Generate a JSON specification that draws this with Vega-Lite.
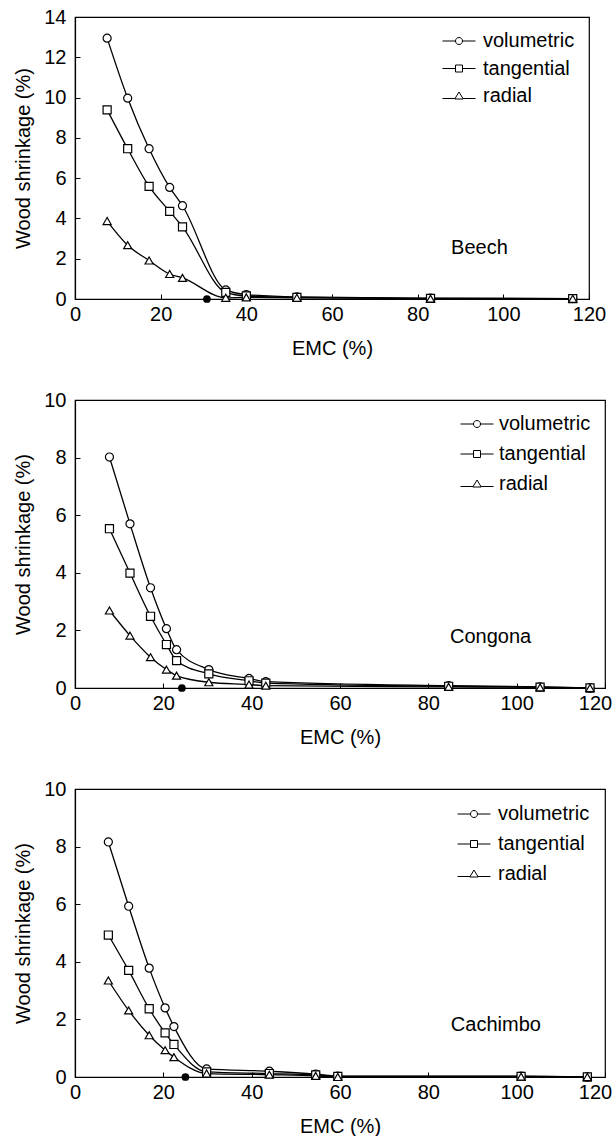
{
  "$schema": "https://vega.github.io/schema/vega-lite/v6.json",
  "padding": {"left": 13, "top": 6, "right": 0, "bottom": 0},
  "background": "white",
  "datasets": {
    "shrink": [
      {"panel": "Beech", "series": "volumetric", "emc": 7.5, "shrinkage": 12.95},
      {"panel": "Beech", "series": "volumetric", "emc": 12.3, "shrinkage": 9.97},
      {"panel": "Beech", "series": "volumetric", "emc": 17.3, "shrinkage": 7.46},
      {"panel": "Beech", "series": "volumetric", "emc": 22.1, "shrinkage": 5.54},
      {"panel": "Beech", "series": "volumetric", "emc": 25.1, "shrinkage": 4.63},
      {"panel": "Beech", "series": "volumetric", "emc": 35.2, "shrinkage": 0.45},
      {"panel": "Beech", "series": "volumetric", "emc": 40.0, "shrinkage": 0.22},
      {"panel": "Beech", "series": "volumetric", "emc": 51.8, "shrinkage": 0.1},
      {"panel": "Beech", "series": "volumetric", "emc": 83.0, "shrinkage": 0.04},
      {"panel": "Beech", "series": "volumetric", "emc": 116.2, "shrinkage": 0.02},
      {"panel": "Beech", "series": "tangential", "emc": 7.5, "shrinkage": 9.39},
      {"panel": "Beech", "series": "tangential", "emc": 12.3, "shrinkage": 7.46},
      {"panel": "Beech", "series": "tangential", "emc": 17.3, "shrinkage": 5.59},
      {"panel": "Beech", "series": "tangential", "emc": 22.1, "shrinkage": 4.35},
      {"panel": "Beech", "series": "tangential", "emc": 25.1, "shrinkage": 3.58},
      {"panel": "Beech", "series": "tangential", "emc": 35.2, "shrinkage": 0.33},
      {"panel": "Beech", "series": "tangential", "emc": 40.0, "shrinkage": 0.15},
      {"panel": "Beech", "series": "tangential", "emc": 51.8, "shrinkage": 0.08},
      {"panel": "Beech", "series": "tangential", "emc": 83.0, "shrinkage": 0.03},
      {"panel": "Beech", "series": "tangential", "emc": 116.2, "shrinkage": 0.02},
      {"panel": "Beech", "series": "radial", "emc": 7.5, "shrinkage": 3.87},
      {"panel": "Beech", "series": "radial", "emc": 12.3, "shrinkage": 2.67},
      {"panel": "Beech", "series": "radial", "emc": 17.3, "shrinkage": 1.91},
      {"panel": "Beech", "series": "radial", "emc": 22.1, "shrinkage": 1.24},
      {"panel": "Beech", "series": "radial", "emc": 25.1, "shrinkage": 1.05},
      {"panel": "Beech", "series": "radial", "emc": 35.2, "shrinkage": 0.06},
      {"panel": "Beech", "series": "radial", "emc": 40.0, "shrinkage": 0.08},
      {"panel": "Beech", "series": "radial", "emc": 51.8, "shrinkage": 0.06},
      {"panel": "Beech", "series": "radial", "emc": 83.0, "shrinkage": 0.02},
      {"panel": "Beech", "series": "radial", "emc": 116.2, "shrinkage": 0.01},

      {"panel": "Congona", "series": "volumetric", "emc": 7.8, "shrinkage": 8.02},
      {"panel": "Congona", "series": "volumetric", "emc": 12.45, "shrinkage": 5.70},
      {"panel": "Congona", "series": "volumetric", "emc": 17.1, "shrinkage": 3.48},
      {"panel": "Congona", "series": "volumetric", "emc": 20.7, "shrinkage": 2.06},
      {"panel": "Congona", "series": "volumetric", "emc": 23.0, "shrinkage": 1.33},
      {"panel": "Congona", "series": "volumetric", "emc": 30.3, "shrinkage": 0.64},
      {"panel": "Congona", "series": "volumetric", "emc": 39.4, "shrinkage": 0.33},
      {"panel": "Congona", "series": "volumetric", "emc": 43.2, "shrinkage": 0.22},
      {"panel": "Congona", "series": "volumetric", "emc": 84.6, "shrinkage": 0.08},
      {"panel": "Congona", "series": "volumetric", "emc": 105.3, "shrinkage": 0.04},
      {"panel": "Congona", "series": "volumetric", "emc": 116.6, "shrinkage": 0.0},
      {"panel": "Congona", "series": "tangential", "emc": 7.8, "shrinkage": 5.53},
      {"panel": "Congona", "series": "tangential", "emc": 12.45, "shrinkage": 3.99},
      {"panel": "Congona", "series": "tangential", "emc": 17.1, "shrinkage": 2.49},
      {"panel": "Congona", "series": "tangential", "emc": 20.7, "shrinkage": 1.51},
      {"panel": "Congona", "series": "tangential", "emc": 23.0, "shrinkage": 0.95},
      {"panel": "Congona", "series": "tangential", "emc": 30.3, "shrinkage": 0.49},
      {"panel": "Congona", "series": "tangential", "emc": 39.4, "shrinkage": 0.25},
      {"panel": "Congona", "series": "tangential", "emc": 43.2, "shrinkage": 0.17},
      {"panel": "Congona", "series": "tangential", "emc": 84.6, "shrinkage": 0.06},
      {"panel": "Congona", "series": "tangential", "emc": 105.3, "shrinkage": 0.03},
      {"panel": "Congona", "series": "tangential", "emc": 116.6, "shrinkage": 0.0},
      {"panel": "Congona", "series": "radial", "emc": 7.8, "shrinkage": 2.69},
      {"panel": "Congona", "series": "radial", "emc": 12.45, "shrinkage": 1.82},
      {"panel": "Congona", "series": "radial", "emc": 17.1, "shrinkage": 1.07},
      {"panel": "Congona", "series": "radial", "emc": 20.7, "shrinkage": 0.64},
      {"panel": "Congona", "series": "radial", "emc": 23.0, "shrinkage": 0.43},
      {"panel": "Congona", "series": "radial", "emc": 30.3, "shrinkage": 0.2},
      {"panel": "Congona", "series": "radial", "emc": 39.4, "shrinkage": 0.12},
      {"panel": "Congona", "series": "radial", "emc": 43.2, "shrinkage": 0.08},
      {"panel": "Congona", "series": "radial", "emc": 84.6, "shrinkage": 0.04},
      {"panel": "Congona", "series": "radial", "emc": 105.3, "shrinkage": 0.02},
      {"panel": "Congona", "series": "radial", "emc": 116.6, "shrinkage": 0.0},

      {"panel": "Cachimbo", "series": "volumetric", "emc": 7.55, "shrinkage": 8.16},
      {"panel": "Cachimbo", "series": "volumetric", "emc": 12.15, "shrinkage": 5.93},
      {"panel": "Cachimbo", "series": "volumetric", "emc": 16.8, "shrinkage": 3.78},
      {"panel": "Cachimbo", "series": "volumetric", "emc": 20.4, "shrinkage": 2.40},
      {"panel": "Cachimbo", "series": "volumetric", "emc": 22.4, "shrinkage": 1.75},
      {"panel": "Cachimbo", "series": "volumetric", "emc": 29.8, "shrinkage": 0.28},
      {"panel": "Cachimbo", "series": "volumetric", "emc": 44.0, "shrinkage": 0.2},
      {"panel": "Cachimbo", "series": "volumetric", "emc": 54.5, "shrinkage": 0.1},
      {"panel": "Cachimbo", "series": "volumetric", "emc": 59.5, "shrinkage": 0.03},
      {"panel": "Cachimbo", "series": "volumetric", "emc": 101.0, "shrinkage": 0.03},
      {"panel": "Cachimbo", "series": "volumetric", "emc": 116.0, "shrinkage": 0.0},
      {"panel": "Cachimbo", "series": "tangential", "emc": 7.55, "shrinkage": 4.93},
      {"panel": "Cachimbo", "series": "tangential", "emc": 12.15, "shrinkage": 3.70},
      {"panel": "Cachimbo", "series": "tangential", "emc": 16.8, "shrinkage": 2.37},
      {"panel": "Cachimbo", "series": "tangential", "emc": 20.4, "shrinkage": 1.53},
      {"panel": "Cachimbo", "series": "tangential", "emc": 22.4, "shrinkage": 1.13},
      {"panel": "Cachimbo", "series": "tangential", "emc": 29.8, "shrinkage": 0.18},
      {"panel": "Cachimbo", "series": "tangential", "emc": 44.0, "shrinkage": 0.12},
      {"panel": "Cachimbo", "series": "tangential", "emc": 54.5, "shrinkage": 0.07},
      {"panel": "Cachimbo", "series": "tangential", "emc": 59.5, "shrinkage": 0.02},
      {"panel": "Cachimbo", "series": "tangential", "emc": 101.0, "shrinkage": 0.02},
      {"panel": "Cachimbo", "series": "tangential", "emc": 116.0, "shrinkage": 0.0},
      {"panel": "Cachimbo", "series": "radial", "emc": 7.55, "shrinkage": 3.35},
      {"panel": "Cachimbo", "series": "radial", "emc": 12.15, "shrinkage": 2.31},
      {"panel": "Cachimbo", "series": "radial", "emc": 16.8, "shrinkage": 1.45},
      {"panel": "Cachimbo", "series": "radial", "emc": 20.4, "shrinkage": 0.93},
      {"panel": "Cachimbo", "series": "radial", "emc": 22.4, "shrinkage": 0.69},
      {"panel": "Cachimbo", "series": "radial", "emc": 29.8, "shrinkage": 0.12},
      {"panel": "Cachimbo", "series": "radial", "emc": 44.0, "shrinkage": 0.08},
      {"panel": "Cachimbo", "series": "radial", "emc": 54.5, "shrinkage": 0.04},
      {"panel": "Cachimbo", "series": "radial", "emc": 59.5, "shrinkage": 0.0},
      {"panel": "Cachimbo", "series": "radial", "emc": 101.0, "shrinkage": 0.01},
      {"panel": "Cachimbo", "series": "radial", "emc": 116.0, "shrinkage": 0.0}
    ],
    "fsp": [
      {"panel": "Beech", "emc": 30.8},
      {"panel": "Congona", "emc": 24.2},
      {"panel": "Cachimbo", "emc": 25.0}
    ]
  },
  "vconcat": [
    {
      "width": 514, "height": 282,
      "layer": [
        {
          "data": {"name": "shrink"},
          "transform": [{"filter": "datum.panel === 'Beech'"}],
          "mark": {"type": "line", "color": "black", "strokeWidth": 1.3, "interpolate": "monotone"},
          "encoding": {
            "x": {"field": "emc", "type": "quantitative", "scale": {"domain": [0, 120], "nice": false}, "axis": {"title": "EMC (%)", "values": [0, 20, 40, 60, 80, 100, 120]}},
            "y": {"field": "shrinkage", "type": "quantitative", "scale": {"domain": [0, 14], "nice": false}, "axis": {"title": "Wood shrinkage (%)", "values": [0, 2, 4, 6, 8, 10, 12, 14]}},
            "detail": {"field": "series"}
          }
        },
        {
          "data": {"name": "shrink"},
          "transform": [{"filter": "datum.panel === 'Beech'"}],
          "mark": {"type": "point", "filled": true, "fill": "white", "stroke": "black", "strokeWidth": 1.2, "size": 65, "opacity": 1},
          "encoding": {
            "x": {"field": "emc", "type": "quantitative"},
            "y": {"field": "shrinkage", "type": "quantitative"},
            "shape": {"field": "series", "type": "nominal", "scale": {"domain": ["volumetric", "tangential", "radial"], "range": ["circle", "square", "triangle-up"]}, "legend": null}
          }
        },
        {
          "data": {"name": "shrink"},
          "transform": [{"filter": "datum.panel === 'Beech'"}],
          "mark": {"type": "point", "filled": false, "stroke": "black", "strokeWidth": 1, "opacity": 0},
          "encoding": {
            "x": {"field": "emc", "type": "quantitative"},
            "y": {"field": "shrinkage", "type": "quantitative"},
            "shape": {
              "field": "series", "type": "nominal",
              "scale": {"domain": ["volumetric", "tangential", "radial"], "range": ["M-3.3,0H-0.7M0.7,0H3.3M0.7,0L0.647,0.268L0.495,0.495L0.268,0.647L0,0.7L-0.268,0.647L-0.495,0.495L-0.647,0.268L-0.7,0L-0.647,-0.268L-0.495,-0.495L-0.268,-0.647L0,-0.7L0.268,-0.647L0.495,-0.495L0.647,-0.268Z", "M-3.3,0H-0.7M0.7,0H3.3M-0.7,-0.7H0.7V0.7H-0.7Z", "M-3.3,0.5H-0.79M0.79,0.5H3.3M0,-0.8L0.85,0.6L-0.85,0.6Z"]},
              "legend": {
                "title": null, "orient": "top-right", "offset": 14, "padding": 0,
                "labelFontSize": 20, "labelColor": "black", "labelOffset": 14, "rowPadding": 7.5,
                "symbolSize": 100, "symbolStrokeWidth": 1, "symbolStrokeColor": "black", "symbolFillColor": "white", "symbolOpacity": 1
              }
            }
          }
        },
        {
          "data": {"name": "fsp"},
          "transform": [{"filter": "datum.panel === 'Beech'"}],
          "mark": {"type": "point", "filled": true, "color": "black", "size": 60, "opacity": 1},
          "encoding": {
            "x": {"field": "emc", "type": "quantitative"},
            "y": {"datum": 0, "type": "quantitative"}
          }
        },
        {
          "data": {"values": [{"species": "Beech"}]},
          "mark": {"type": "text", "fontSize": 20, "align": "left", "baseline": "middle", "color": "black"},
          "encoding": {
            "text": {"field": "species"},
            "x": {"datum": 87.8, "type": "quantitative"},
            "y": {"datum": 2.54, "type": "quantitative"}
          }
        }
      ],
      "resolve": {"scale": {"shape": "independent"}, "legend": {"shape": "independent"}}
    },
    {
      "width": 530, "height": 288,
      "layer": [
        {
          "data": {"name": "shrink"},
          "transform": [{"filter": "datum.panel === 'Congona'"}],
          "mark": {"type": "line", "color": "black", "strokeWidth": 1.3, "interpolate": "monotone"},
          "encoding": {
            "x": {"field": "emc", "type": "quantitative", "scale": {"domain": [0, 120], "nice": false}, "axis": {"title": "EMC (%)", "values": [0, 20, 40, 60, 80, 100, 120], "labelOffset": {"condition": {"test": "datum.value === 120", "value": -10}, "value": 0}}},
            "y": {"field": "shrinkage", "type": "quantitative", "scale": {"domain": [0, 10], "nice": false}, "axis": {"title": "Wood shrinkage (%)", "values": [0, 2, 4, 6, 8, 10]}},
            "detail": {"field": "series"}
          }
        },
        {
          "data": {"name": "shrink"},
          "transform": [{"filter": "datum.panel === 'Congona'"}],
          "mark": {"type": "point", "filled": true, "fill": "white", "stroke": "black", "strokeWidth": 1.2, "size": 65, "opacity": 1},
          "encoding": {
            "x": {"field": "emc", "type": "quantitative"},
            "y": {"field": "shrinkage", "type": "quantitative"},
            "shape": {"field": "series", "type": "nominal", "scale": {"domain": ["volumetric", "tangential", "radial"], "range": ["circle", "square", "triangle-up"]}, "legend": null}
          }
        },
        {
          "data": {"name": "shrink"},
          "transform": [{"filter": "datum.panel === 'Congona'"}],
          "mark": {"type": "point", "filled": false, "stroke": "black", "strokeWidth": 1, "opacity": 0},
          "encoding": {
            "x": {"field": "emc", "type": "quantitative"},
            "y": {"field": "shrinkage", "type": "quantitative"},
            "shape": {
              "field": "series", "type": "nominal",
              "scale": {"domain": ["volumetric", "tangential", "radial"], "range": ["M-3.3,0H-0.7M0.7,0H3.3M0.7,0L0.647,0.268L0.495,0.495L0.268,0.647L0,0.7L-0.268,0.647L-0.495,0.495L-0.647,0.268L-0.7,0L-0.647,-0.268L-0.495,-0.495L-0.268,-0.647L0,-0.7L0.268,-0.647L0.495,-0.495L0.647,-0.268Z", "M-3.3,0H-0.7M0.7,0H3.3M-0.7,-0.7H0.7V0.7H-0.7Z", "M-3.3,0.5H-0.79M0.79,0.5H3.3M0,-0.8L0.85,0.6L-0.85,0.6Z"]},
              "legend": {
                "title": null, "orient": "top-right", "offset": 14, "padding": 0,
                "labelFontSize": 20, "labelColor": "black", "labelOffset": 12, "rowPadding": 10,
                "symbolSize": 100, "symbolStrokeWidth": 1, "symbolStrokeColor": "black", "symbolFillColor": "white", "symbolOpacity": 1
              }
            }
          }
        },
        {
          "data": {"name": "fsp"},
          "transform": [{"filter": "datum.panel === 'Congona'"}],
          "mark": {"type": "point", "filled": true, "color": "black", "size": 60, "opacity": 1},
          "encoding": {
            "x": {"field": "emc", "type": "quantitative"},
            "y": {"datum": 0, "type": "quantitative"}
          }
        },
        {
          "data": {"values": [{"species": "Congona"}]},
          "mark": {"type": "text", "fontSize": 20, "align": "left", "baseline": "middle", "color": "black"},
          "encoding": {
            "text": {"field": "species"},
            "x": {"datum": 84.9, "type": "quantitative"},
            "y": {"datum": 1.77, "type": "quantitative"}
          }
        }
      ],
      "resolve": {"scale": {"shape": "independent"}, "legend": {"shape": "independent"}}
    },
    {
      "width": 530, "height": 288,
      "layer": [
        {
          "data": {"name": "shrink"},
          "transform": [{"filter": "datum.panel === 'Cachimbo'"}],
          "mark": {"type": "line", "color": "black", "strokeWidth": 1.3, "interpolate": "monotone"},
          "encoding": {
            "x": {"field": "emc", "type": "quantitative", "scale": {"domain": [0, 120], "nice": false}, "axis": {"title": "EMC (%)", "values": [0, 20, 40, 60, 80, 100, 120], "labelOffset": {"condition": {"test": "datum.value === 120", "value": -10}, "value": 0}}},
            "y": {"field": "shrinkage", "type": "quantitative", "scale": {"domain": [0, 10], "nice": false}, "axis": {"title": "Wood shrinkage (%)", "values": [0, 2, 4, 6, 8, 10]}},
            "detail": {"field": "series"}
          }
        },
        {
          "data": {"name": "shrink"},
          "transform": [{"filter": "datum.panel === 'Cachimbo'"}],
          "mark": {"type": "point", "filled": true, "fill": "white", "stroke": "black", "strokeWidth": 1.2, "size": 65, "opacity": 1},
          "encoding": {
            "x": {"field": "emc", "type": "quantitative"},
            "y": {"field": "shrinkage", "type": "quantitative"},
            "shape": {"field": "series", "type": "nominal", "scale": {"domain": ["volumetric", "tangential", "radial"], "range": ["circle", "square", "triangle-up"]}, "legend": null}
          }
        },
        {
          "data": {"name": "shrink"},
          "transform": [{"filter": "datum.panel === 'Cachimbo'"}],
          "mark": {"type": "point", "filled": false, "stroke": "black", "strokeWidth": 1, "opacity": 0},
          "encoding": {
            "x": {"field": "emc", "type": "quantitative"},
            "y": {"field": "shrinkage", "type": "quantitative"},
            "shape": {
              "field": "series", "type": "nominal",
              "scale": {"domain": ["volumetric", "tangential", "radial"], "range": ["M-3.3,0H-0.7M0.7,0H3.3M0.7,0L0.647,0.268L0.495,0.495L0.268,0.647L0,0.7L-0.268,0.647L-0.495,0.495L-0.647,0.268L-0.7,0L-0.647,-0.268L-0.495,-0.495L-0.268,-0.647L0,-0.7L0.268,-0.647L0.495,-0.495L0.647,-0.268Z", "M-3.3,0H-0.7M0.7,0H3.3M-0.7,-0.7H0.7V0.7H-0.7Z", "M-3.3,0.5H-0.79M0.79,0.5H3.3M0,-0.8L0.85,0.6L-0.85,0.6Z"]},
              "legend": {
                "title": null, "orient": "top-right", "offset": 15, "padding": 0,
                "labelFontSize": 20, "labelColor": "black", "labelOffset": 14, "rowPadding": 10,
                "symbolSize": 100, "symbolStrokeWidth": 1, "symbolStrokeColor": "black", "symbolFillColor": "white", "symbolOpacity": 1
              }
            }
          }
        },
        {
          "data": {"name": "fsp"},
          "transform": [{"filter": "datum.panel === 'Cachimbo'"}],
          "mark": {"type": "point", "filled": true, "color": "black", "size": 60, "opacity": 1},
          "encoding": {
            "x": {"field": "emc", "type": "quantitative"},
            "y": {"datum": 0, "type": "quantitative"}
          }
        },
        {
          "data": {"values": [{"species": "Cachimbo"}]},
          "mark": {"type": "text", "fontSize": 20, "align": "left", "baseline": "middle", "color": "black"},
          "encoding": {
            "text": {"field": "species"},
            "x": {"datum": 85.1, "type": "quantitative"},
            "y": {"datum": 1.79, "type": "quantitative"}
          }
        }
      ],
      "resolve": {"scale": {"shape": "independent"}, "legend": {"shape": "independent"}}
    }
  ],
  "spacing": 101,
  "bounds": "flush",
  "config": {
    "font": "Liberation Sans",
    "view": {"stroke": "black", "strokeWidth": 1.2},
    "axis": {
      "grid": false,
      "labelFontSize": 20,
      "titleFontSize": 20,
      "titleFontWeight": "normal",
      "labelColor": "black",
      "titleColor": "black",
      "domainColor": "black",
      "domainWidth": 1.2,
      "tickColor": "black",
      "tickWidth": 1,
      "tickSize": -5,
      "labelFlush": false,
      "labelOverlap": false
    },
    "axisX": {"labelPadding": 10, "titlePadding": 14},
    "axisY": {"labelPadding": 14, "titlePadding": 10}
  }
}
